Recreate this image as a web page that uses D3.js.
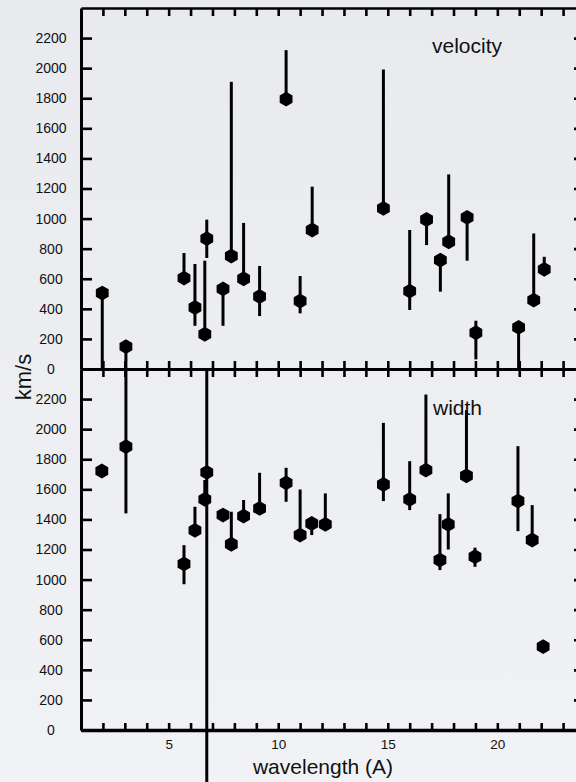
<!DOCTYPE html>
<html>
<head>
<meta charset="utf-8">
<script src="https://cdn.jsdelivr.net/npm/d3@7/dist/d3.min.js"></script>
<style>
	body { margin : 0; background : #eef0f3; overflow : hidden; }
	svg text { font-family : 'Liberation Sans', Arial, Helvetica, sans-serif; fill : #111; }
</style>
</head>
<body>
<div id="chart"></div>
<script>
// velocity panel (km/s), wavelength in A
const velWave  = [1.97, 3.05, 5.70, 6.20, 6.74, 6.65, 7.48, 7.86, 8.42, 9.15, 10.36, 11.00,
				  11.55, 14.80, 16.00, 16.77, 17.40, 17.78, 18.62, 19.02, 20.97, 21.66, 22.14];
const velValue = [505, 149, 604, 409, 867, 231, 533, 751, 600, 482, 1794, 452,
				  924, 1068, 518, 994, 724, 846, 1008, 241, 277, 458, 662];
const velLow   = [0, 0, 604, 287, 738, 231, 287, 751, 600, 352, 1794, 370,
				  924, 1068, 392, 824, 514, 846, 720, 64, 0, 458, 662];
const velHigh  = [505, 149, 771, 698, 993, 720, 533, 1909, 971, 685, 2120, 618,
				  1212, 1991, 924, 994, 724, 1294, 1008, 321, 277, 901, 746];

// width panel (km/s)
const widWave  = [1.95, 3.05, 5.70, 6.20, 6.74, 6.65, 7.48, 7.86, 8.42, 9.15, 10.36, 11.00,
				  11.53, 12.15, 14.80, 16.00, 16.74, 17.38, 17.76, 18.59, 18.98, 20.94, 21.59, 22.09];
const widValue = [1722, 1884, 1104, 1327, 1713, 1533, 1429, 1235, 1422, 1473, 1643, 1296,
				  1373, 1367, 1632, 1533, 1728, 1130, 1367, 1690, 1152, 1522, 1263, 554];
const widLow   = [1722, 1440, 969, 1327, -400, 1533, 1429, 1235, 1422, 1473, 1517, 1296,
				  1296, 1367, 1522, 1462, 1728, 1063, 1200, 1690, 1085, 1322, 1263, 554];
const widHigh  = [1722, 2400, 1229, 1484, 2400, 1662, 1429, 1451, 1529, 1710, 1743, 1599,
				  1373, 1573, 2042, 1787, 2230, 1435, 1573, 2126, 1212, 1887, 1495, 554];

const yTicks     = d3.range( 0, 2201, 200 );
const xTicks     = d3.range( 2, 25, 1 );
const xLabels    = [5, 10, 15, 20];
const panelNames = ['velocity', 'width'];

const width  = 576;
const height = 782;

const svg = d3.select( '#chart' )
			  .append( 'svg' )
			  .attr( 'width', width )
			  .attr( 'height', height );

const grad = svg.append( 'defs' )
				.append( 'linearGradient' )
				.attr( 'id', 'bg' )
				.attr( 'x1', 0 ).attr( 'y1', 0 )
				.attr( 'x2', 0 ).attr( 'y2', 1 );
grad.append( 'stop' ).attr( 'offset', '0%' ).attr( 'stop-color', '#e8eaee' );
grad.append( 'stop' ).attr( 'offset', '100%' ).attr( 'stop-color', '#f1f2f5' );

svg.append( 'rect' )
   .attr( 'width', width )
   .attr( 'height', height )
   .attr( 'fill', 'url(#bg)' );

const x = d3.scaleLinear().domain( [1, 24] ).range( [81, 585] );

const yTop = d3.scaleLinear().domain( [0, 2400] ).range( [369, 8] );
const yBot = d3.scaleLinear().domain( [0, 2400] ).range( [730, 369] );

const hexagon = r => {
	const pts = d3.range( 6 ).map( k => {
		const a = Math.PI / 3 * k - Math.PI / 2;
		return [r * Math.cos( a ), r * Math.sin( a )];
	} );
	return 'M' + pts.join( 'L' ) + 'Z';
};

const styleAxis = ( g, w ) => {
	g.select( '.domain' ).attr( 'stroke', '#000' ).attr( 'stroke-width', w );
	g.selectAll( '.tick line' ).attr( 'stroke', '#000' ).attr( 'stroke-width', 2.6 );
};

// y axes, left with labels, right (just off the picture) without
[yTop, yBot].forEach( y => {
	const left = svg.append( 'g' )
					.attr( 'transform', `translate(${x( 1 )},0)` )
					.call( d3.axisLeft( y ).tickValues( yTicks ).tickFormat( d3.format( 'd' ) )
							 .tickSizeInner( -11 ).tickSizeOuter( 0 ).tickPadding( 30 ) )
					.call( g => styleAxis( g, 3 ) );
	left.selectAll( '.tick text' )
		.attr( 'text-anchor', 'middle' )
		.attr( 'font-size', 14 )
		.attr( 'font-family', null );

	svg.append( 'g' )
	   .attr( 'transform', `translate(${x( 24 )},0)` )
	   .call( d3.axisRight( y ).tickValues( yTicks ).tickSizeInner( -11 ).tickSizeOuter( 0 ).tickFormat( '' ) )
	   .call( g => styleAxis( g, 3 ) );
} );

// x axes: top frame, middle line (both sides), bottom with labels
svg.append( 'g' )
   .attr( 'transform', `translate(0,${yTop( 2400 )})` )
   .call( d3.axisBottom( x ).tickValues( xTicks ).tickSizeInner( 8 ).tickSizeOuter( 0 ).tickFormat( '' ) )
   .call( g => styleAxis( g, 2.6 ) );

svg.append( 'g' )
   .attr( 'transform', `translate(0,${yTop( 0 )})` )
   .call( d3.axisBottom( x ).tickValues( xTicks ).tickSizeInner( 8 ).tickSizeOuter( 0 ).tickFormat( '' ) )
   .call( g => styleAxis( g, 3 ) );

svg.append( 'g' )
   .attr( 'transform', `translate(0,${yTop( 0 )})` )
   .call( d3.axisTop( x ).tickValues( xTicks ).tickSizeInner( 8 ).tickSizeOuter( 0 ).tickFormat( '' ) )
   .call( g => styleAxis( g, 3 ) );

const bottom = svg.append( 'g' )
				  .attr( 'transform', `translate(0,${yBot( 0 )})` )
				  .call( d3.axisBottom( x ).tickValues( xTicks ).tickSizeInner( -7 ).tickSizeOuter( 0 ).tickPadding( 9 )
							.tickFormat( d => xLabels.includes( d ) ? d : '' ) )
				  .call( g => styleAxis( g, 3.4 ) );
bottom.selectAll( '.tick text' )
	  .attr( 'font-size', 13.5 )
	  .attr( 'font-family', null );

// data: error bars then hexagons
const panels = [
	{ y : yTop, wave : velWave, value : velValue, low : velLow, high : velHigh },
	{ y : yBot, wave : widWave, value : widValue, low : widLow, high : widHigh }
];

panels.forEach( p => {
	const rows = p.wave.map( ( w, i ) => ( { w, v : p.value[i], lo : p.low[i], hi : p.high[i] } ) );
	const g    = svg.append( 'g' );

	g.selectAll( 'line' )
	 .data( rows.filter( d => d.hi > d.lo ) )
	 .enter()
	 .append( 'line' )
	 .attr( 'x1', d => x( d.w ) )
	 .attr( 'x2', d => x( d.w ) )
	 .attr( 'y1', d => p.y( d.lo ) )
	 .attr( 'y2', d => p.y( d.hi ) )
	 .attr( 'stroke', '#000' )
	 .attr( 'stroke-width', 3 );

	g.selectAll( 'path' )
	 .data( rows )
	 .enter()
	 .append( 'path' )
	 .attr( 'd', hexagon( 7.4 ) )
	 .attr( 'transform', d => `translate(${x( d.w )},${p.y( d.v )})` )
	 .attr( 'fill', '#000' );
} );

// texts
svg.append( 'text' )
   .attr( 'x', 432 )
   .attr( 'y', 53 )
   .attr( 'font-size', 21 )
   .text( panelNames[0] );

svg.append( 'text' )
   .attr( 'x', 433 )
   .attr( 'y', 415 )
   .attr( 'font-size', 21 )
   .text( panelNames[1] );

svg.append( 'text' )
   .attr( 'transform', 'translate(31,377) rotate(-90)' )
   .attr( 'text-anchor', 'middle' )
   .attr( 'font-size', 22 )
   .text( 'km/s' );

svg.append( 'text' )
   .attr( 'x', 323 )
   .attr( 'y', 774 )
   .attr( 'text-anchor', 'middle' )
   .attr( 'font-size', 21 )
   .text( 'wavelength (A)' );
</script>
</body>
</html>
